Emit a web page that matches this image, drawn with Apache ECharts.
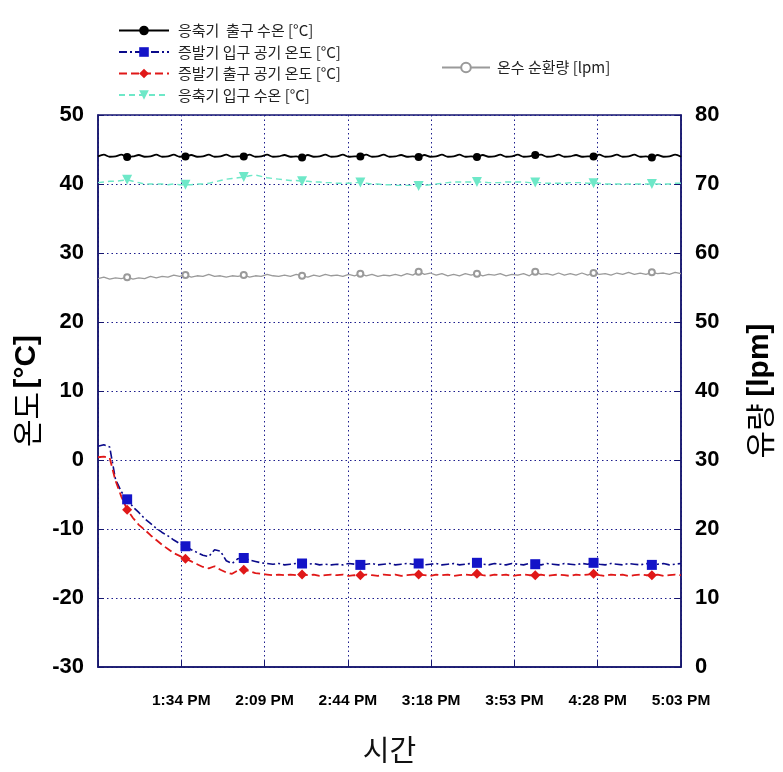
<!DOCTYPE html>
<html>
<head>
<meta charset="utf-8">
<script src="https://cdn.jsdelivr.net/npm/echarts@6/dist/echarts.min.js"></script>
<style>
html,body{margin:0;padding:0;background:#fff;overflow:hidden;}
#chart{width:783px;height:772px;}
</style>
</head>
<body>
<div id="chart"></div>
<script>
// x-axis tick labels (one per tick interval, first tick unlabeled)
const xTickLabels = ['', '1:34 PM', '2:09 PM', '2:44 PM', '3:18 PM', '3:53 PM', '4:28 PM', '5:03 PM'];
// samples are taken every 0.07 tick intervals (~2.44 min), 101 samples
const sampleStep = 0.07;
const markerEvery = 10;
const markerOffset = 5;

const seriesNames = ['응축기  출구 수온 [°C]', '증발기 입구 공기 온도 [°C]', '증발기 출구 공기 온도 [°C]', '응축기 입구 수온 [°C]', '온수 순환량 [lpm]'];

const condOut = [
 44.0,44.25,43.95,44.0,44.25,43.9,44.0,44.2,43.95,44.0,
 44.25,43.95,44.0,44.25,43.95,44.0,44.2,43.95,44.0,44.25,
 43.95,44.0,44.25,43.95,44.0,44.0,44.25,43.95,44.0,44.25,
 43.95,44.0,44.2,43.95,44.0,43.85,44.2,43.95,44.0,44.25,
 43.95,44.0,44.25,43.95,44.0,44.0,44.25,43.95,44.0,44.25,
 43.95,44.0,44.2,43.95,44.0,43.9,44.2,43.95,44.0,44.25,
 43.95,44.0,44.25,43.95,44.0,43.9,44.2,43.95,44.0,44.25,
 43.95,44.0,44.25,43.95,44.0,44.2,44.25,43.95,44.0,44.25,
 43.95,44.0,44.2,43.95,44.0,44.0,44.25,43.95,44.0,44.25,
 43.95,44.0,44.25,43.95,44.0,43.85,44.2,43.95,44.0,44.25,
 43.95
];
const evapIn = [
 2.0,2.2,1.9,-2.8,-4.6,-5.7,-6.8,-7.6,-8.5,-9.2,
 -9.9,-10.5,-11.0,-11.6,-12.1,-12.5,-13.0,-13.4,-13.8,-14.0,
 -13.0,-13.2,-14.6,-15.0,-14.3,-14.2,-14.5,-14.7,-14.9,-15.0,
 -15.1,-15.0,-15.2,-15.1,-15.0,-15.0,-15.1,-15.0,-15.2,-15.1,
 -15.2,-15.1,-15.2,-15.0,-15.1,-15.2,-15.1,-15.0,-15.2,-15.1,
 -15.0,-15.2,-15.1,-15.0,-15.1,-15.0,-15.2,-15.1,-15.0,-15.2,
 -15.1,-15.0,-15.2,-15.1,-15.0,-14.9,-15.1,-15.2,-15.0,-15.1,
 -15.2,-15.0,-15.1,-15.2,-15.0,-15.1,-15.2,-15.0,-15.1,-15.2,
 -15.0,-15.1,-15.2,-15.0,-15.1,-14.9,-15.1,-15.2,-15.0,-15.1,
 -15.2,-15.0,-15.1,-15.2,-15.0,-15.2,-15.1,-15.0,-15.2,-15.1,
 -15.0
];
const evapOut = [
 0.4,0.5,0.3,-3.0,-5.3,-7.2,-8.4,-9.4,-10.1,-10.9,
 -11.6,-12.3,-12.9,-13.5,-13.9,-14.3,-14.7,-15.1,-15.5,-15.7,
 -15.4,-15.9,-16.3,-16.5,-16.0,-15.9,-16.1,-16.4,-16.5,-16.6,
 -16.7,-16.6,-16.7,-16.6,-16.7,-16.6,-16.7,-16.6,-16.8,-16.7,
 -16.6,-16.7,-16.6,-16.8,-16.7,-16.7,-16.6,-16.7,-16.8,-16.6,
 -16.7,-16.6,-16.8,-16.7,-16.6,-16.6,-16.7,-16.8,-16.6,-16.7,
 -16.6,-16.8,-16.7,-16.6,-16.7,-16.5,-16.7,-16.8,-16.6,-16.7,
 -16.6,-16.8,-16.7,-16.6,-16.7,-16.7,-16.6,-16.8,-16.7,-16.6,
 -16.7,-16.8,-16.6,-16.7,-16.6,-16.5,-16.7,-16.8,-16.6,-16.7,
 -16.6,-16.8,-16.7,-16.6,-16.7,-16.7,-16.6,-16.8,-16.7,-16.6,
 -16.7
];
const condIn = [
 40.2,40.3,40.4,40.4,40.5,40.6,40.4,40.2,40.0,40.0,
 40.0,40.0,39.9,40.0,39.9,39.9,39.9,40.0,40.0,40.1,
 40.3,40.5,40.7,40.8,40.9,41.0,41.2,41.3,41.1,40.9,
 40.8,40.7,40.6,40.5,40.5,40.4,40.4,40.3,40.3,40.2,
 40.2,40.1,40.1,40.1,40.2,40.2,40.1,40.0,40.0,39.9,
 39.9,39.8,39.8,39.8,39.8,39.7,39.8,39.9,40.0,40.1,
 40.2,40.3,40.3,40.3,40.3,40.3,40.3,40.2,40.2,40.2,
 40.3,40.3,40.3,40.3,40.2,40.2,40.2,40.1,40.1,40.1,
 40.1,40.2,40.2,40.2,40.1,40.1,40.1,40.0,40.0,40.0,
 40.0,40.0,40.0,40.0,40.0,40.0,40.0,40.0,40.0,40.1,
 40.1
];
const flowRate = [
 56.3,56.5,56.2,56.4,56.3,56.5,56.2,56.4,56.3,56.6,
 56.4,56.6,56.5,56.8,56.6,56.8,56.5,56.7,56.6,56.9,
 56.6,56.7,56.5,56.7,56.6,56.8,56.5,56.7,56.6,56.9,
 56.7,56.6,56.8,56.6,56.9,56.7,56.5,56.8,56.6,56.9,
 56.7,56.8,56.6,56.9,56.7,57.0,56.7,56.9,56.6,56.8,
 56.7,56.9,56.7,57.0,56.8,57.3,56.9,57.1,56.8,57.0,
 56.7,56.9,56.7,57.0,56.8,57.0,56.7,56.9,56.8,57.0,
 56.7,56.9,56.8,57.0,56.7,57.3,56.9,57.0,56.8,57.1,
 56.8,57.0,56.8,57.1,56.8,57.1,56.9,57.0,56.8,57.1,
 56.9,57.2,56.9,57.1,56.9,57.2,57.0,57.1,56.9,57.2,
 57.0
];

const leftAxisTicks = {min: -30, max: 50, interval: 10};
const rightAxisTicks = {min: 0, max: 80, interval: 10};

function toPairs(arr) { return arr.map((v, i) => [i * sampleStep, v]); }
function markerSize(size) {
  return function (val, params) {
    return ((params.dataIndex - markerOffset) % markerEvery === 0) ? size : 0;
  };
}

const navy = '#16166e';
const gridDot = {show: true, lineStyle: {color: '#1c1c8c', type: [1.5, 3], width: 1}};
const numFont = {fontFamily: 'Liberation Sans, Arial, sans-serif', fontWeight: 'bold', fontSize: 22, color: '#000'};

const chart = echarts.init(document.getElementById('chart'), null, {renderer: 'canvas', width: 783, height: 772});
chart.setOption({
  animation: false,
  backgroundColor: '#fff',
  grid: {left: 98, right: 96, top: 115, bottom: 105, show: true, borderColor: navy, borderWidth: 1.5, backgroundColor: 'transparent'},
  legend: [
    {
      data: seriesNames.slice(0, 4),
      orient: 'vertical', left: 113, top: 18,
      itemWidth: 50, itemHeight: 12, itemGap: 6.5,
      textStyle: {fontFamily: 'Noto Sans CJK KR, sans-serif', fontSize: 15, color: '#222', padding: [0, 0, 0, 4]},
      selectedMode: false
    },
    {
      data: [seriesNames[4]],
      orient: 'vertical', left: 436, top: 55,
      itemWidth: 48, itemHeight: 12,
      textStyle: {fontFamily: 'Noto Sans CJK KR, sans-serif', fontSize: 15, color: '#222', padding: [0, 0, 0, 2]},
      selectedMode: false
    }
  ],
  xAxis: {
    type: 'value', min: 0, max: xTickLabels.length - 1, interval: 1,
    name: '시간', nameLocation: 'middle', nameGap: 68,
    nameTextStyle: {fontFamily: 'Noto Sans CJK KR, sans-serif', fontSize: 29, color: '#111'},
    axisLine: {show: true, onZero: false, lineStyle: {color: navy, width: 1.5}},
    axisTick: {show: true, inside: true, length: 6, lineStyle: {color: navy}},
    axisLabel: {
      margin: 26,
      fontFamily: 'Liberation Sans, Arial, sans-serif', fontWeight: 'bold', fontSize: 15.5, color: '#000',
      formatter: function (v) { const k = Math.round(v); return xTickLabels[k] || ''; }
    },
    splitLine: gridDot
  },
  yAxis: [
    {
      type: 'value', position: 'left',
      min: leftAxisTicks.min, max: leftAxisTicks.max, interval: leftAxisTicks.interval,
      name: '{k|온도} {b|[°C]}', nameLocation: 'middle', nameRotate: 90, nameGap: 52,
      nameTextStyle: {rich: {
        k: {fontFamily: 'Noto Sans CJK KR, sans-serif', fontSize: 30, color: '#000'},
        b: {fontFamily: 'Liberation Sans, Arial, sans-serif', fontSize: 30, fontWeight: 'bold', color: '#000'}
      }},
      axisLine: {show: true, onZero: false, lineStyle: {color: navy, width: 1.5}},
      axisTick: {show: true, inside: true, length: 6, lineStyle: {color: navy}},
      axisLabel: Object.assign({margin: 14}, numFont),
      splitLine: gridDot
    },
    {
      type: 'value', position: 'right',
      min: rightAxisTicks.min, max: rightAxisTicks.max, interval: rightAxisTicks.interval,
      name: '{k|유량}  {b|[lpm]}', nameLocation: 'middle', nameRotate: 90, nameGap: 64,
      nameTextStyle: {rich: {
        k: {fontFamily: 'Noto Sans CJK KR, sans-serif', fontSize: 30, color: '#000'},
        b: {fontFamily: 'Liberation Sans, Arial, sans-serif', fontSize: 30, fontWeight: 'bold', color: '#000'}
      }},
      axisLine: {show: true, onZero: false, lineStyle: {color: navy, width: 1.5}},
      axisTick: {show: true, inside: true, length: 6, lineStyle: {color: navy}},
      axisLabel: Object.assign({margin: 14}, numFont),
      splitLine: {show: false}
    }
  ],
  series: [
    {
      name: seriesNames[0], type: 'line', yAxisIndex: 0, data: toPairs(condOut),
      smooth: 0.3, showAllSymbol: true, symbol: 'circle', symbolSize: markerSize(8),
      lineStyle: {color: '#000', width: 1.8}, itemStyle: {color: '#000'}, z: 5
    },
    {
      name: seriesNames[1], type: 'line', yAxisIndex: 0, data: toPairs(evapIn),
      showAllSymbol: true, symbol: 'rect', symbolSize: markerSize(10),
      lineStyle: {color: '#0a0a8a', width: 1.6, type: [8, 3, 2, 3]}, itemStyle: {color: '#1414c8'}, z: 4
    },
    {
      name: seriesNames[2], type: 'line', yAxisIndex: 0, data: toPairs(evapOut),
      showAllSymbol: true, symbol: 'diamond', symbolSize: markerSize(10),
      lineStyle: {color: '#e01818', width: 1.8, type: [8, 4]}, itemStyle: {color: '#e01818'}, z: 4
    },
    {
      name: seriesNames[3], type: 'line', yAxisIndex: 0, data: toPairs(condIn),
      showAllSymbol: true, symbol: 'triangle', symbolRotate: 180, symbolSize: markerSize(10),
      lineStyle: {color: '#6ee8c8', width: 1.4, type: [6, 4]}, itemStyle: {color: '#6ee8c8'}, z: 3
    },
    {
      name: seriesNames[4], type: 'line', yAxisIndex: 1, data: toPairs(flowRate),
      showAllSymbol: true, symbol: 'emptyCircle', symbolSize: markerSize(6),
      lineStyle: {color: '#9a9a9a', width: 1.3}, itemStyle: {color: '#9a9a9a', borderWidth: 1}, z: 2
    }
  ]
});
</script>
</body>
</html>
